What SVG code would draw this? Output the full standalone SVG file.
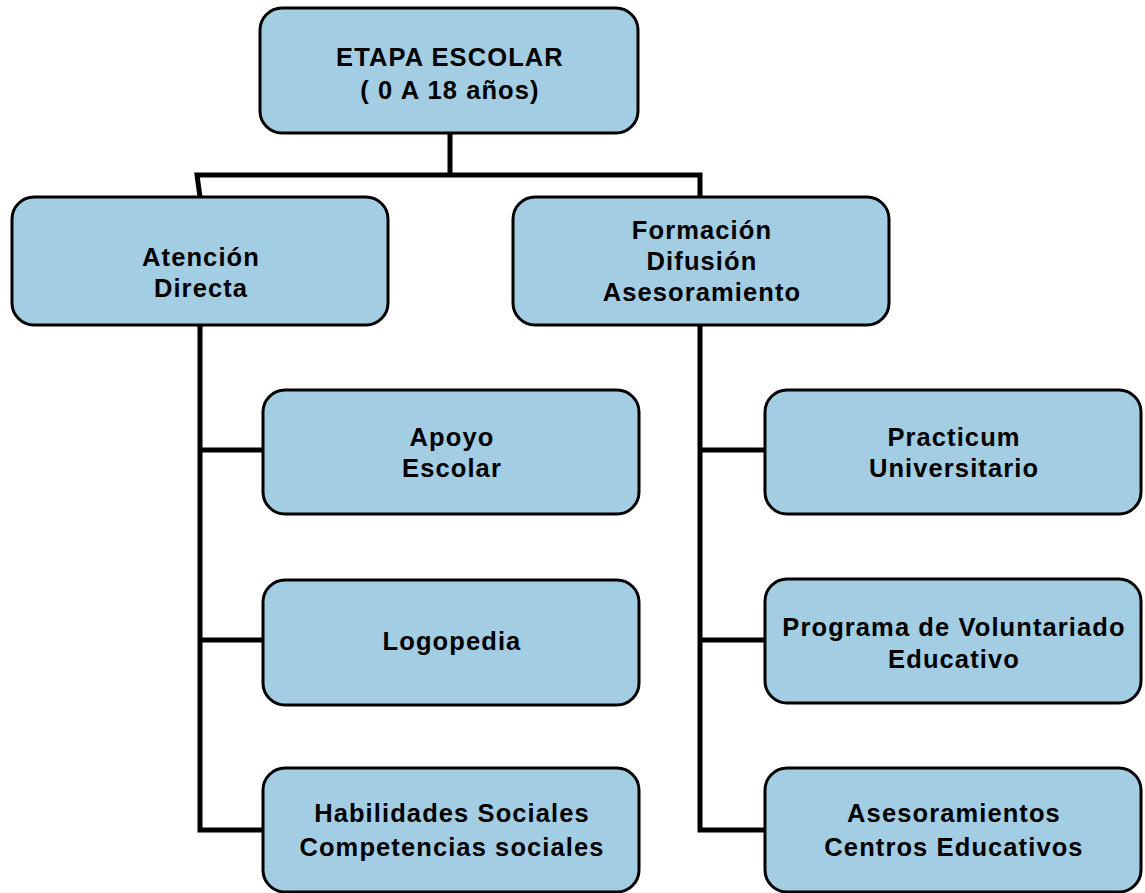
<svg xmlns="http://www.w3.org/2000/svg" width="1145" height="893" viewBox="0 0 1145 893">
<style>
.box{fill:#a3cde2;stroke:#000;stroke-width:3}
.t{font-family:"Liberation Sans",Arial,sans-serif;font-weight:bold;font-size:25.5px;letter-spacing:1.1px;fill:#000;text-anchor:middle}
.c{fill:none;stroke:#000;stroke-width:5;stroke-linejoin:miter}
</style>
<rect width="1145" height="893" fill="#fff"/>
<g id="connectors">
<path class="c" d="M450,133 V175"/>
<path class="c" d="M200,197 L197,175 H700 V197"/>
<path class="c" d="M200,325 V830 H263 M200,450 H263 M200,640 H263"/>
<path class="c" d="M700,325 V830 H765 M700,450 H765 M700,640 H765"/>
</g>
<g id="etapa">
<rect class="box" x="260" y="8" width="378" height="125" rx="22"/>
<text class="t" x="450" y="66">ETAPA ESCOLAR</text>
<text class="t" x="450" y="99">( 0 A 18 años)</text>
</g>
<g id="atencion">
<rect class="box" x="12" y="197" width="376" height="128" rx="22"/>
<text class="t" x="201" y="266">Atención</text>
<text class="t" x="201" y="297">Directa</text>
</g>
<g id="formacion">
<rect class="box" x="513" y="197" width="376" height="128" rx="22"/>
<text class="t" x="702" y="239">Formación</text>
<text class="t" x="702" y="270">Difusión</text>
<text class="t" x="702" y="301">Asesoramiento</text>
</g>
<g id="apoyo">
<rect class="box" x="263" y="390" width="376" height="124" rx="22"/>
<text class="t" x="452" y="446">Apoyo</text>
<text class="t" x="452" y="477">Escolar</text>
</g>
<g id="logopedia">
<rect class="box" x="263" y="580" width="376" height="125" rx="22"/>
<text class="t" x="452" y="650">Logopedia</text>
</g>
<g id="habilidades">
<rect class="box" x="263" y="768" width="376" height="124" rx="22"/>
<text class="t" x="452" y="822">Habilidades Sociales</text>
<text class="t" x="452" y="856">Competencias sociales</text>
</g>
<g id="practicum">
<rect class="box" x="765" y="390" width="376" height="124" rx="22"/>
<text class="t" x="954" y="446">Practicum</text>
<text class="t" x="954" y="477">Universitario</text>
</g>
<g id="voluntariado">
<rect class="box" x="765" y="579" width="376" height="124" rx="22"/>
<text class="t" x="954" y="636">Programa de Voluntariado</text>
<text class="t" x="954" y="668">Educativo</text>
</g>
<g id="asesoramientos">
<rect class="box" x="765" y="768" width="376" height="124" rx="22"/>
<text class="t" x="954" y="822">Asesoramientos</text>
<text class="t" x="954" y="856">Centros Educativos</text>
</g>
</svg>
